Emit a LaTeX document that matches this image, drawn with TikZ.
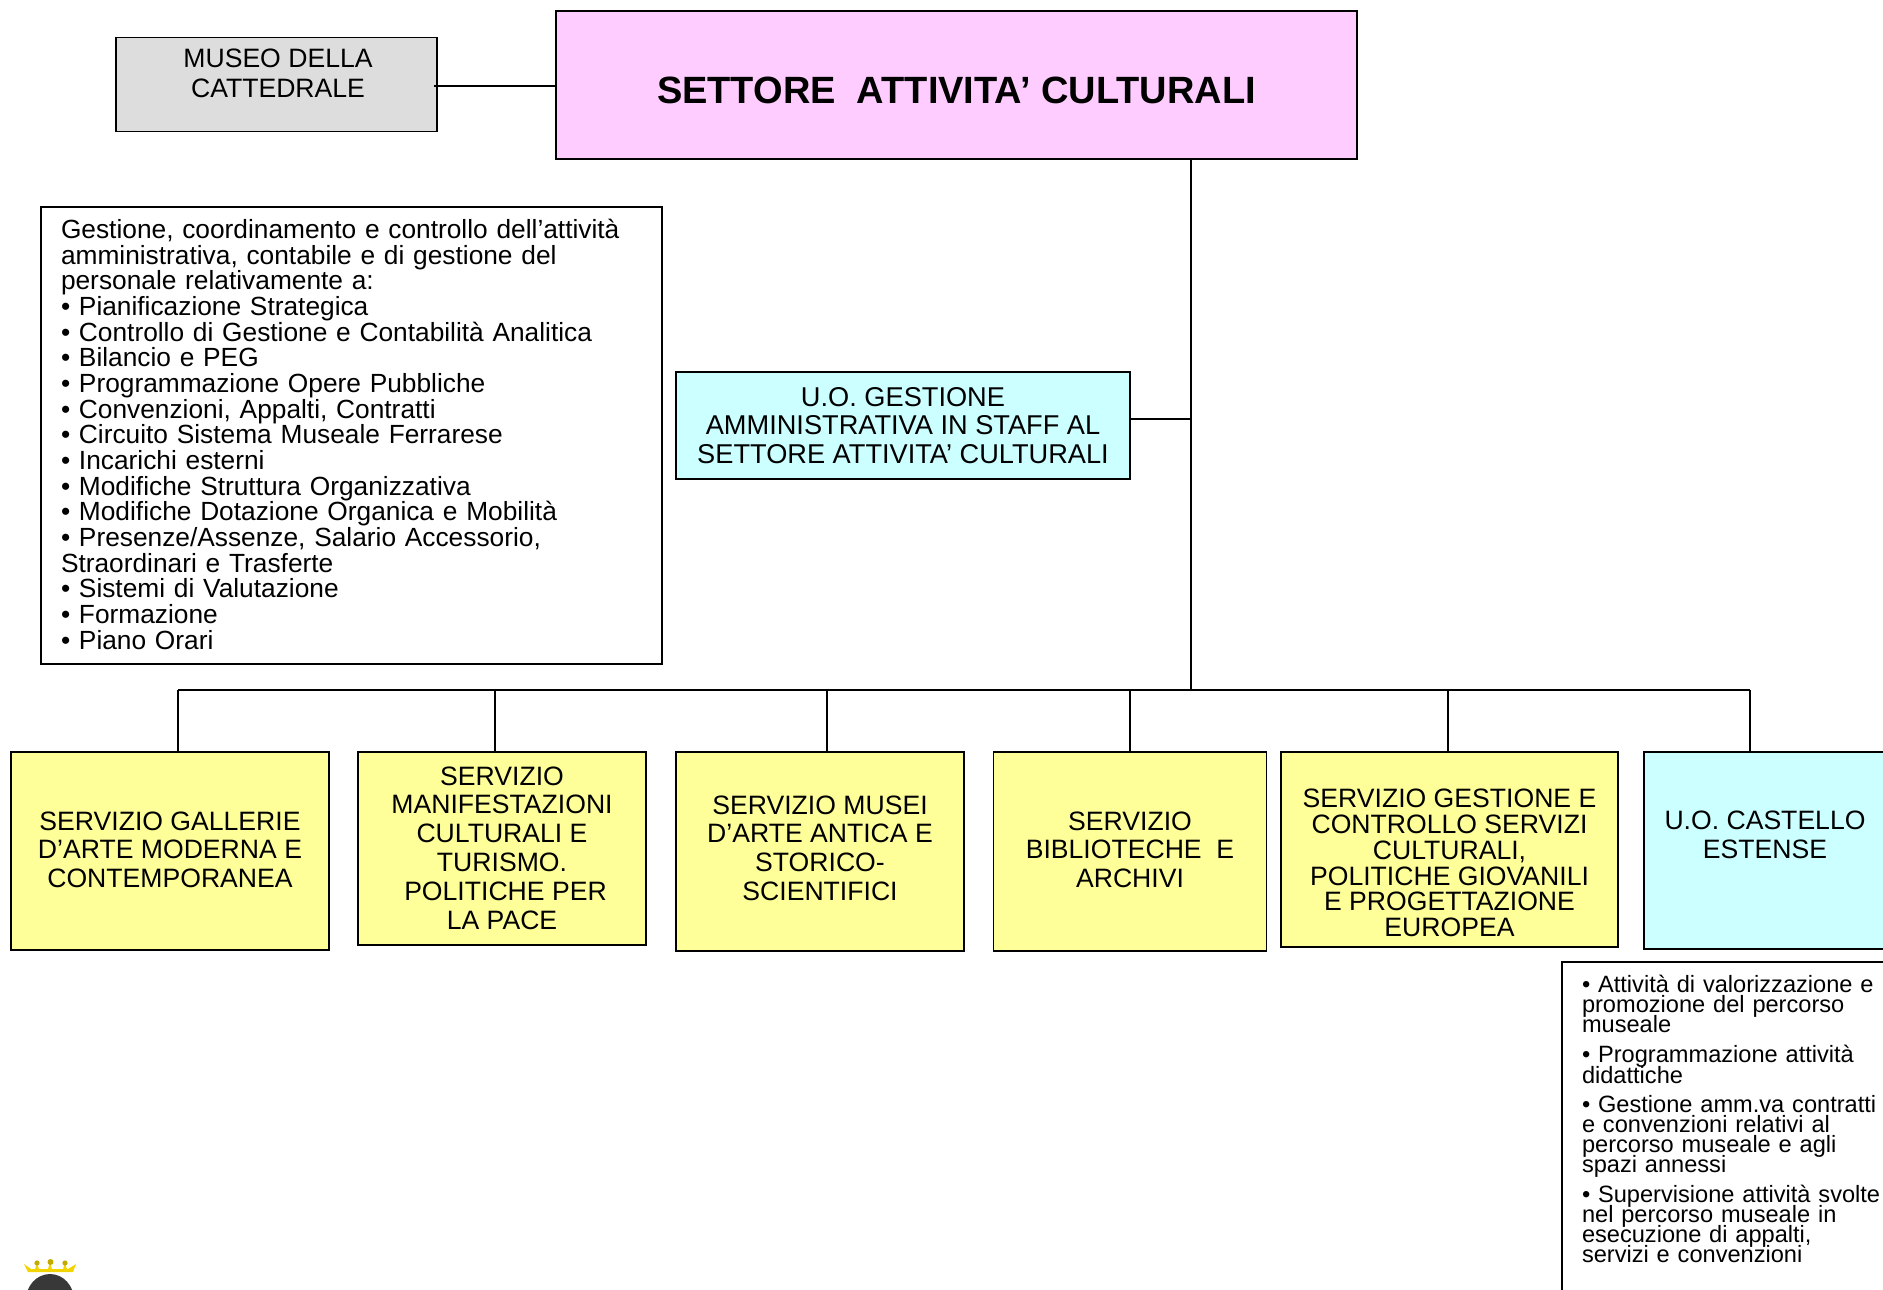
\documentclass[tikz,border=0pt]{standalone}
\usepackage{fontspec}
\setmainfont{Liberation Sans}
\setlength{\lineskiplimit}{-100pt}
\newcommand{\fs}[2]{\fontsize{#1pt}{#2pt}\selectfont\lineskiplimit=-100pt\relax}
\tikzset{
  x=1pt,y=-1pt,
  box/.style={draw=black,line width=1.8pt,inner sep=0pt,outer sep=0pt,align=center,font=\fs{26.6}{28.6}},
  yellowbox/.style={box,fill=yellowfill},
  cyanbox/.style={box,fill=cyanfill},
  wire/.style={draw=black,line width=1.8pt},
  plain/.style={inner sep=0pt,outer sep=0pt,align=center,font=\fs{26.6}{28.6}},
}
\definecolor{yellowfill}{HTML}{FFFF99}
\definecolor{cyanfill}{HTML}{CCFFFF}
\definecolor{pinkfill}{HTML}{FFCCFF}
\definecolor{greyfill}{HTML}{DDDDDD}
\definecolor{crown}{HTML}{F2D500}
\begin{document}
\begin{tikzpicture}
\useasboundingbox (0,0) rectangle (1883,1290);
\clip (0,0) rectangle (1883,1290);
% top
\node[box,fill=pinkfill,minimum width=801pt,minimum height=148pt] (title) at (956.5,85) {};
\node[plain,font=\bfseries\fs{38}{40}] (titletxt) at (956.5,90) {SETTORE\ \ ATTIVITA’ CULTURALI};
\node[box,fill=greyfill,minimum width=321pt,minimum height=94pt] (museum) at (276.5,84.5) {};
\node[plain,font=\fs{26.6}{30.5}] (museumtxt) at (278,73.5) {MUSEO DELLA\\ CATTEDRALE};
% text block
\node[box,minimum width=621pt,minimum height=457pt] (tasks) at (351.5,435.5) {};
\node[plain,align=left,anchor=north west,text width=600pt,font=\fs{26.3}{25.67}] (taskstxt) at (61,219) {Gestione, coordinamento e controllo dell’attività\\
amministrativa, contabile e di gestione del\\
personale relativamente a:\\
• Pianificazione Strategica\\
• Controllo di Gestione e Contabilità Analitica\\
• Bilancio e PEG\\
• Programmazione Opere Pubbliche\\
• Convenzioni, Appalti, Contratti\\
• Circuito Sistema Museale Ferrarese\\
• Incarichi esterni\\
• Modifiche Struttura Organizzativa\\
• Modifiche Dotazione Organica e Mobilità\\
• Presenze/Assenze, Salario Accessorio,\\
Straordinari e Trasferte\\
• Sistemi di Valutazione\\
• Formazione\\
• Piano Orari};
% staff
\node[cyanbox,minimum width=454pt,minimum height=107pt,font=\fs{27.2}{28.4}] (staff) at (903,425.5) {U.O. GESTIONE\\ AMMINISTRATIVA IN STAFF AL\\ SETTORE ATTIVITA’ CULTURALI};
% services
\node[yellowbox,minimum width=318pt,minimum height=198pt] (s1) at (170,851) {};
\node[plain] (s1txt) at (170,849.5) {SERVIZIO GALLERIE\\ D’ARTE MODERNA E\\ CONTEMPORANEA};
\node[yellowbox,minimum width=288pt,minimum height=193pt] (s2) at (502,848.5) {};
\node[plain,font=\fs{26.6}{28.8}] (s2txt) at (502,848) {SERVIZIO\\ MANIFESTAZIONI\\ CULTURALI E\\ TURISMO.\\ \hspace*{7pt}POLITICHE PER\\ LA PACE};
\node[yellowbox,minimum width=288pt,minimum height=199pt] (s3) at (820,851.5) {};
\node[plain] (s3txt) at (820,848) {SERVIZIO MUSEI\\ D’ARTE ANTICA E\\ STORICO-\\ SCIENTIFICI};
\node[yellowbox,minimum width=273pt,minimum height=199pt] (s4) at (1130,851.5) {};
\node[plain] (s4txt) at (1130,849.5) {SERVIZIO\\ BIBLIOTECHE\ \ E\\ ARCHIVI};
\node[yellowbox,minimum width=337pt,minimum height=195pt] (s5) at (1449.5,849.5) {};
\node[plain,font=\fs{26.6}{25.7}] (s5txt) at (1449.5,863) {SERVIZIO GESTIONE E\\ CONTROLLO SERVIZI\\ CULTURALI,\\ POLITICHE GIOVANILI\\ E PROGETTAZIONE\\ EUROPEA};
\node[cyanbox,minimum width=242pt,minimum height=197pt] (s6) at (1765,850.5) {};
\node[plain] (s6txt) at (1765,835) {U.O. CASTELLO\\ ESTENSE};
% lower right box
\node[box,minimum width=340pt,minimum height=400pt] (notes) at (1732,1162) {};
\node[plain,align=left,anchor=north west,text width=325pt,font=\fs{23.6}{20.2}] (notestxt) at (1582,975) {• Attività di valorizzazione e\\
promozione del percorso\\
museale\par\vspace{10pt}
• Programmazione attività\\
didattiche\par\vspace{9pt}
• Gestione amm.va contratti\\
e convenzioni relativi al\\
percorso museale e agli\\
spazi annessi\par\vspace{9pt}
• Supervisione attività svolte\\
nel percorso museale in\\
esecuzione di appalti,\\
servizi e convenzioni};
% connectors
\coordinate (trunk) at (1191,690);
\coordinate (jstaff) at (1191,419);
\draw[wire] (433.5,86) coordinate (mright) -- (title.west |- mright);
\draw[wire] (title.south -| trunk) -- (trunk);
\draw[wire] (staff.east |- jstaff) -- (jstaff);
\draw[wire] (178,690) coordinate (busl) -- (1750,690) coordinate (busr);
\draw[wire] (busl) -- (s1.north -| busl);
\draw[wire] (495,690) coordinate (b2) -- (s2.north -| b2);
\draw[wire] (827,690) coordinate (b3) -- (s3.north -| b3);
\draw[wire] (1130,690) coordinate (b4) -- (s4.north -| b4);
\draw[wire] (1448,690) coordinate (b5) -- (s5.north -| b5);
\draw[wire] (busr) -- (s6.north -| busr);
% logo
\fill[crown] (24,1264) -- (31,1269) -- (68,1269) -- (76,1264) -- (73,1272) -- (28,1272) -- cycle;
\fill[crown] (35,1269) -- (37,1263) -- (39,1269) -- cycle;
\fill[crown] (48,1269) -- (50,1262) -- (52,1269) -- cycle;
\fill[crown] (63,1269) -- (65,1263) -- (67,1269) -- cycle;
\fill[crown!80!black] (37,1263) circle[radius=2.6];
\fill[crown!80!black] (50.5,1262) circle[radius=3];
\fill[crown!80!black] (65,1263) circle[radius=2.6];
\fill[black!78] (26,1300) arc[start angle=180,end angle=360,x radius=24,y radius=26] -- cycle;
\end{tikzpicture}
\end{document}
